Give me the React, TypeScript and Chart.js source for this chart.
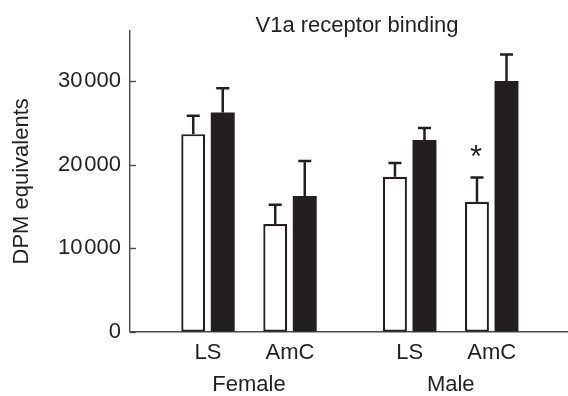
import React, { useEffect, useRef } from 'react';
import { Chart, registerables } from 'chart.js';

Chart.register(...registerables);

// ---- data ----
const sexes = ['Female', 'Male'];
const regions = ['LS', 'AmC'];
const yTicks = [0, 10000, 20000, 30000];
const controlMeans = [23650, 12900, 18550, 15550];
const controlErrors = [2200, 2300, 1650, 2900];
const treatedMeans = [26250, 16250, 22950, 30000];
const treatedErrors = [2900, 4200, 1450, 3200];
const controlMarks = ['', '', '', '*'];
const chartTitle = 'V1a receptor binding';
const yTitle = 'DPM equivalents';

// ---- layout / style constants ----
const INK = '#231f20';
const AXIS = '#4a4a4a';
const FONT = '"Liberation Sans", Arial, Helvetica, sans-serif';
const GROUP_GAP = 0.46;
const X_MIN = -0.951;
const X_MAX = 4.39;
const Y_MAX = 36000;

const positions = sexes.flatMap((_, s) => regions.map((__, r) => s * (regions.length + GROUP_GAP) + r));
const regionLabels = sexes.flatMap(() => regions);
const sexCenters = sexes.map((_, s) => s * (regions.length + GROUP_GAP) + (regions.length - 1) / 2);

const fmt = (v: number) => {
  const s = String(v);
  return v >= 10000 ? s.slice(0, -3) + '\u200A' + s.slice(-3) : s;
};

const errorBarPlugin = {
  id: 'errorBars',
  afterDatasetsDraw(chart: any) {
    const ctx = chart.ctx;
    const yScale = chart.scales.y;
    const errs = [controlErrors, treatedErrors];
    const means = [controlMeans, treatedMeans];
    ctx.save();
    ctx.strokeStyle = INK;
    ctx.lineWidth = 2.5;
    chart.data.datasets.forEach((_: any, di: number) => {
      const meta = chart.getDatasetMeta(di);
      meta.data.forEach((bar: any, i: number) => {
        const top = yScale.getPixelForValue(means[di][i] + errs[di][i]);
        ctx.beginPath();
        ctx.moveTo(bar.x, bar.y);
        ctx.lineTo(bar.x, top);
        ctx.moveTo(bar.x - 6.5, top);
        ctx.lineTo(bar.x + 6.5, top);
        ctx.stroke();
        if (di === 0 && controlMarks[i]) {
          ctx.save();
          ctx.fillStyle = INK;
          ctx.font = `31px ${FONT}`;
          ctx.textAlign = 'center';
          ctx.textBaseline = 'alphabetic';
          ctx.fillText(controlMarks[i], bar.x - 1, top - 11);
          ctx.restore();
        }
      });
    });
    ctx.restore();
  },
};

const decorPlugin = {
  id: 'decor',
  afterDraw(chart: any) {
    const ctx = chart.ctx;
    const { left, right } = chart.chartArea;
    const yScale = chart.scales.y;
    ctx.save();
    // inward tick marks on y axis
    ctx.strokeStyle = AXIS;
    ctx.lineWidth = 1.4;
    yTicks.forEach((v) => {
      const py = Math.round(yScale.getPixelForValue(v)) + 0.5;
      ctx.beginPath();
      ctx.moveTo(left, py);
      ctx.lineTo(left + 6, py);
      ctx.stroke();
    });
    // title
    ctx.fillStyle = INK;
    ctx.font = `22px ${FONT}`;
    ctx.textAlign = 'center';
    ctx.textBaseline = 'alphabetic';
    ctx.fillText(chartTitle, (left + right) / 2 + 8, 32);
    ctx.restore();
  },
};

export default function App() {
  const ref = useRef<HTMLCanvasElement | null>(null);

  useEffect(() => {
    if (!ref.current) return;
    const chart = new Chart(ref.current, {
      type: 'bar',
      data: {
        datasets: [
          {
            label: 'control',
            data: positions.map((x, i) => ({ x, y: controlMeans[i] })),
            backgroundColor: '#ffffff',
            borderColor: INK,
            borderWidth: 2.2,
            borderSkipped: false,
            categoryPercentage: 0.72,
            barPercentage: 0.81,
          },
          {
            label: 'treated',
            data: positions.map((x, i) => ({ x, y: treatedMeans[i] })),
            backgroundColor: INK,
            borderColor: INK,
            borderWidth: 0,
            borderSkipped: false,
            categoryPercentage: 0.72,
            barPercentage: 0.81,
          },
        ],
      },
      options: {
        animation: false,
        responsive: false,
        layout: { padding: { top: 31, right: 0, left: 0, bottom: 0 } },
        plugins: { legend: { display: false }, tooltip: { enabled: false }, title: { display: false } },
        scales: {
          x: {
            type: 'linear',
            position: 'bottom',
            min: X_MIN,
            max: X_MAX,
            offset: false,
            grid: { display: false, drawTicks: false },
            border: { display: true, color: AXIS, width: 1.4 },
            afterBuildTicks: (scale: any) => {
              scale.ticks = positions.map((v) => ({ value: v }));
            },
            afterFit: (scale: any) => {
              scale.height = 32;
            },
            ticks: {
              autoSkip: false,
              maxRotation: 0,
              padding: 8,
              color: INK,
              font: { family: FONT, size: 22 },
              callback: (_v: any, i: number) => regionLabels[i],
            },
          },
          x2: {
            type: 'linear',
            position: 'bottom',
            min: X_MIN,
            max: X_MAX,
            offset: false,
            grid: { display: false, drawTicks: false },
            border: { display: false },
            afterBuildTicks: (scale: any) => {
              scale.ticks = sexCenters.map((v) => ({ value: v }));
            },
            afterFit: (scale: any) => {
              scale.height = 32.3;
            },
            ticks: {
              autoSkip: false,
              maxRotation: 0,
              padding: 8,
              color: INK,
              font: { family: FONT, size: 22 },
              callback: (_v: any, i: number) => sexes[i],
            },
          },
          y: {
            type: 'linear',
            min: 0,
            max: Y_MAX,
            grid: { display: false, drawTicks: false },
            border: { display: true, color: AXIS, width: 1.4 },
            afterBuildTicks: (scale: any) => {
              scale.ticks = yTicks.map((v) => ({ value: v }));
            },
            afterFit: (scale: any) => {
              scale.width = 130;
            },
            ticks: {
              padding: 9,
              color: INK,
              font: { family: FONT, size: 22 },
              callback: (v: any) => fmt(Number(v)),
            },
            title: {
              display: true,
              text: yTitle,
              color: INK,
              font: { family: FONT, size: 22 },
              padding: { top: 9, bottom: 0 },
            },
          },
        },
      },
      plugins: [errorBarPlugin, decorPlugin],
    } as any);
    return () => chart.destroy();
  }, []);

  return (
    <div style={{ position: 'fixed', left: 0, top: 0, width: 568, height: 396, background: '#fff' }}>
      <canvas ref={ref} width={568} height={396} style={{ display: 'block' }} />
    </div>
  );
}
